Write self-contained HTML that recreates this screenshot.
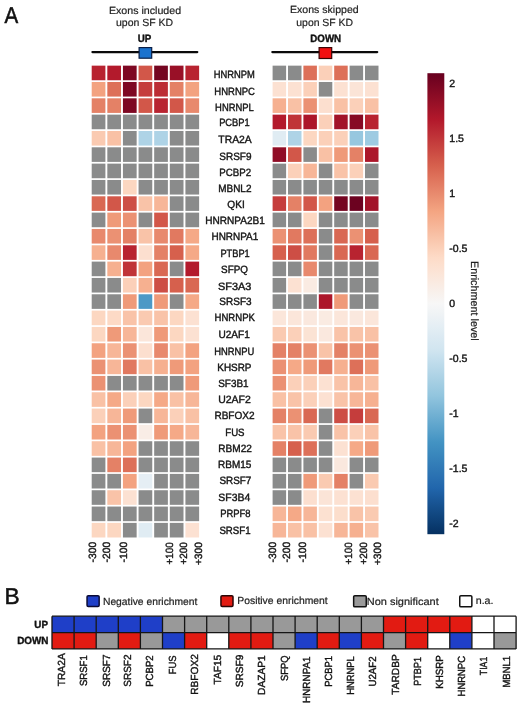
<!DOCTYPE html>
<html><head><meta charset="utf-8"><title>Figure</title>
<style>
html,body{margin:0;padding:0;background:#fff;width:520px;height:706px;overflow:hidden;}
svg text{font-family:"Liberation Sans",sans-serif;}
</style></head><body>
<svg width="520" height="706" viewBox="0 0 520 706" style="display:block;text-rendering:geometricPrecision;will-change:transform;filter:blur(0.4px)">
<rect x="0" y="0" width="520" height="706" fill="#ffffff"/>
<line x1="92.45" y1="52.1" x2="197.25" y2="52.1" stroke="#0a0a0a" stroke-width="2.3" stroke-linecap="round"/>
<line x1="272.35" y1="52.1" x2="377.2" y2="52.1" stroke="#0a0a0a" stroke-width="2.3" stroke-linecap="round"/>
<rect x="139.1" y="47.6" width="12.6" height="10.6" fill="#1b73cf" stroke="#0b1e45" stroke-width="1.2"/>
<rect x="319.1" y="47.6" width="12.6" height="10.9" fill="#f20f10" stroke="#3a0505" stroke-width="1.2"/>
<rect x="91.70" y="65.65" width="13.7" height="14.6" fill="#b82330"/>
<rect x="107.32" y="65.65" width="13.7" height="14.6" fill="#b31a2c"/>
<rect x="122.94" y="65.65" width="13.7" height="14.6" fill="#7e0823"/>
<rect x="138.56" y="65.65" width="13.7" height="14.6" fill="#d25749"/>
<rect x="154.18" y="65.65" width="13.7" height="14.6" fill="#750521"/>
<rect x="169.80" y="65.65" width="13.7" height="14.6" fill="#991027"/>
<rect x="185.42" y="65.65" width="13.7" height="14.6" fill="#b82330"/>
<rect x="91.70" y="81.98" width="13.7" height="14.6" fill="#f3a280"/>
<rect x="107.32" y="81.98" width="13.7" height="14.6" fill="#dd7059"/>
<rect x="122.94" y="81.98" width="13.7" height="14.6" fill="#7e0823"/>
<rect x="138.56" y="81.98" width="13.7" height="14.6" fill="#c53d3c"/>
<rect x="154.18" y="81.98" width="13.7" height="14.6" fill="#bc2c34"/>
<rect x="169.80" y="81.98" width="13.7" height="14.6" fill="#e48166"/>
<rect x="185.42" y="81.98" width="13.7" height="14.6" fill="#f3a280"/>
<rect x="91.70" y="98.31" width="13.7" height="14.6" fill="#e48166"/>
<rect x="107.32" y="98.31" width="13.7" height="14.6" fill="#e48166"/>
<rect x="122.94" y="98.31" width="13.7" height="14.6" fill="#7e0823"/>
<rect x="138.56" y="98.31" width="13.7" height="14.6" fill="#d25749"/>
<rect x="154.18" y="98.31" width="13.7" height="14.6" fill="#b82330"/>
<rect x="169.80" y="98.31" width="13.7" height="14.6" fill="#d25749"/>
<rect x="185.42" y="98.31" width="13.7" height="14.6" fill="#e8896d"/>
<rect x="91.70" y="114.64" width="13.7" height="14.6" fill="#8a8b8b"/>
<rect x="107.32" y="114.64" width="13.7" height="14.6" fill="#8a8b8b"/>
<rect x="122.94" y="114.64" width="13.7" height="14.6" fill="#8a8b8b"/>
<rect x="138.56" y="114.64" width="13.7" height="14.6" fill="#8a8b8b"/>
<rect x="154.18" y="114.64" width="13.7" height="14.6" fill="#8a8b8b"/>
<rect x="169.80" y="114.64" width="13.7" height="14.6" fill="#8a8b8b"/>
<rect x="185.42" y="114.64" width="13.7" height="14.6" fill="#8a8b8b"/>
<rect x="91.70" y="130.97" width="13.7" height="14.6" fill="#facab1"/>
<rect x="107.32" y="130.97" width="13.7" height="14.6" fill="#f9c1a5"/>
<rect x="122.94" y="130.97" width="13.7" height="14.6" fill="#8a8b8b"/>
<rect x="138.56" y="130.97" width="13.7" height="14.6" fill="#aed3e6"/>
<rect x="154.18" y="130.97" width="13.7" height="14.6" fill="#aed3e6"/>
<rect x="169.80" y="130.97" width="13.7" height="14.6" fill="#8a8b8b"/>
<rect x="185.42" y="130.97" width="13.7" height="14.6" fill="#8a8b8b"/>
<rect x="91.70" y="147.30" width="13.7" height="14.6" fill="#8a8b8b"/>
<rect x="107.32" y="147.30" width="13.7" height="14.6" fill="#8a8b8b"/>
<rect x="122.94" y="147.30" width="13.7" height="14.6" fill="#8a8b8b"/>
<rect x="138.56" y="147.30" width="13.7" height="14.6" fill="#8a8b8b"/>
<rect x="154.18" y="147.30" width="13.7" height="14.6" fill="#8a8b8b"/>
<rect x="169.80" y="147.30" width="13.7" height="14.6" fill="#8a8b8b"/>
<rect x="185.42" y="147.30" width="13.7" height="14.6" fill="#8a8b8b"/>
<rect x="91.70" y="163.63" width="13.7" height="14.6" fill="#8a8b8b"/>
<rect x="107.32" y="163.63" width="13.7" height="14.6" fill="#8a8b8b"/>
<rect x="122.94" y="163.63" width="13.7" height="14.6" fill="#8a8b8b"/>
<rect x="138.56" y="163.63" width="13.7" height="14.6" fill="#8a8b8b"/>
<rect x="154.18" y="163.63" width="13.7" height="14.6" fill="#8a8b8b"/>
<rect x="169.80" y="163.63" width="13.7" height="14.6" fill="#8a8b8b"/>
<rect x="185.42" y="163.63" width="13.7" height="14.6" fill="#8a8b8b"/>
<rect x="91.70" y="179.96" width="13.7" height="14.6" fill="#8a8b8b"/>
<rect x="107.32" y="179.96" width="13.7" height="14.6" fill="#8a8b8b"/>
<rect x="122.94" y="179.96" width="13.7" height="14.6" fill="#fcd7c1"/>
<rect x="138.56" y="179.96" width="13.7" height="14.6" fill="#8a8b8b"/>
<rect x="154.18" y="179.96" width="13.7" height="14.6" fill="#8a8b8b"/>
<rect x="169.80" y="179.96" width="13.7" height="14.6" fill="#8a8b8b"/>
<rect x="185.42" y="179.96" width="13.7" height="14.6" fill="#8a8b8b"/>
<rect x="91.70" y="196.29" width="13.7" height="14.6" fill="#d96853"/>
<rect x="107.32" y="196.29" width="13.7" height="14.6" fill="#d25749"/>
<rect x="122.94" y="196.29" width="13.7" height="14.6" fill="#cd4e45"/>
<rect x="138.56" y="196.29" width="13.7" height="14.6" fill="#f9c3a8"/>
<rect x="154.18" y="196.29" width="13.7" height="14.6" fill="#f7b698"/>
<rect x="169.80" y="196.29" width="13.7" height="14.6" fill="#8a8b8b"/>
<rect x="185.42" y="196.29" width="13.7" height="14.6" fill="#8a8b8b"/>
<rect x="91.70" y="212.62" width="13.7" height="14.6" fill="#8a8b8b"/>
<rect x="107.32" y="212.62" width="13.7" height="14.6" fill="#ef9a79"/>
<rect x="122.94" y="212.62" width="13.7" height="14.6" fill="#eb9173"/>
<rect x="138.56" y="212.62" width="13.7" height="14.6" fill="#8a8b8b"/>
<rect x="154.18" y="212.62" width="13.7" height="14.6" fill="#d25749"/>
<rect x="169.80" y="212.62" width="13.7" height="14.6" fill="#8a8b8b"/>
<rect x="185.42" y="212.62" width="13.7" height="14.6" fill="#8a8b8b"/>
<rect x="91.70" y="228.95" width="13.7" height="14.6" fill="#e8896d"/>
<rect x="107.32" y="228.95" width="13.7" height="14.6" fill="#eb9173"/>
<rect x="122.94" y="228.95" width="13.7" height="14.6" fill="#e48166"/>
<rect x="138.56" y="228.95" width="13.7" height="14.6" fill="#f9c3a8"/>
<rect x="154.18" y="228.95" width="13.7" height="14.6" fill="#e8896d"/>
<rect x="169.80" y="228.95" width="13.7" height="14.6" fill="#e17960"/>
<rect x="185.42" y="228.95" width="13.7" height="14.6" fill="#f5a987"/>
<rect x="91.70" y="245.28" width="13.7" height="14.6" fill="#f6b090"/>
<rect x="107.32" y="245.28" width="13.7" height="14.6" fill="#e8896d"/>
<rect x="122.94" y="245.28" width="13.7" height="14.6" fill="#b82330"/>
<rect x="138.56" y="245.28" width="13.7" height="14.6" fill="#fcdfcf"/>
<rect x="154.18" y="245.28" width="13.7" height="14.6" fill="#e48166"/>
<rect x="169.80" y="245.28" width="13.7" height="14.6" fill="#d6604d"/>
<rect x="185.42" y="245.28" width="13.7" height="14.6" fill="#f5a987"/>
<rect x="91.70" y="261.61" width="13.7" height="14.6" fill="#8a8b8b"/>
<rect x="107.32" y="261.61" width="13.7" height="14.6" fill="#f6b090"/>
<rect x="122.94" y="261.61" width="13.7" height="14.6" fill="#c03438"/>
<rect x="138.56" y="261.61" width="13.7" height="14.6" fill="#f3a280"/>
<rect x="154.18" y="261.61" width="13.7" height="14.6" fill="#d96853"/>
<rect x="169.80" y="261.61" width="13.7" height="14.6" fill="#8a8b8b"/>
<rect x="185.42" y="261.61" width="13.7" height="14.6" fill="#b31a2c"/>
<rect x="91.70" y="277.94" width="13.7" height="14.6" fill="#8a8b8b"/>
<rect x="107.32" y="277.94" width="13.7" height="14.6" fill="#8a8b8b"/>
<rect x="122.94" y="277.94" width="13.7" height="14.6" fill="#fbd0b9"/>
<rect x="138.56" y="277.94" width="13.7" height="14.6" fill="#f6b090"/>
<rect x="154.18" y="277.94" width="13.7" height="14.6" fill="#cd4e45"/>
<rect x="169.80" y="277.94" width="13.7" height="14.6" fill="#d6604d"/>
<rect x="185.42" y="277.94" width="13.7" height="14.6" fill="#d96853"/>
<rect x="91.70" y="294.27" width="13.7" height="14.6" fill="#8a8b8b"/>
<rect x="107.32" y="294.27" width="13.7" height="14.6" fill="#8a8b8b"/>
<rect x="122.94" y="294.27" width="13.7" height="14.6" fill="#ef9a79"/>
<rect x="138.56" y="294.27" width="13.7" height="14.6" fill="#4c99c6"/>
<rect x="154.18" y="294.27" width="13.7" height="14.6" fill="#ef9a79"/>
<rect x="169.80" y="294.27" width="13.7" height="14.6" fill="#8a8b8b"/>
<rect x="185.42" y="294.27" width="13.7" height="14.6" fill="#f5a987"/>
<rect x="91.70" y="310.60" width="13.7" height="14.6" fill="#fcd7c1"/>
<rect x="107.32" y="310.60" width="13.7" height="14.6" fill="#fddac6"/>
<rect x="122.94" y="310.60" width="13.7" height="14.6" fill="#f9c3a8"/>
<rect x="138.56" y="310.60" width="13.7" height="14.6" fill="#facab1"/>
<rect x="154.18" y="310.60" width="13.7" height="14.6" fill="#f9c3a8"/>
<rect x="169.80" y="310.60" width="13.7" height="14.6" fill="#fcd7c1"/>
<rect x="185.42" y="310.60" width="13.7" height="14.6" fill="#fce1d2"/>
<rect x="91.70" y="326.93" width="13.7" height="14.6" fill="#fcd7c1"/>
<rect x="107.32" y="326.93" width="13.7" height="14.6" fill="#ef9a79"/>
<rect x="122.94" y="326.93" width="13.7" height="14.6" fill="#f7b698"/>
<rect x="138.56" y="326.93" width="13.7" height="14.6" fill="#fbe6da"/>
<rect x="154.18" y="326.93" width="13.7" height="14.6" fill="#ef9a79"/>
<rect x="169.80" y="326.93" width="13.7" height="14.6" fill="#fcd7c1"/>
<rect x="185.42" y="326.93" width="13.7" height="14.6" fill="#fce1d2"/>
<rect x="91.70" y="343.26" width="13.7" height="14.6" fill="#f3a280"/>
<rect x="107.32" y="343.26" width="13.7" height="14.6" fill="#f7b698"/>
<rect x="122.94" y="343.26" width="13.7" height="14.6" fill="#eb9173"/>
<rect x="138.56" y="343.26" width="13.7" height="14.6" fill="#fcdfcf"/>
<rect x="154.18" y="343.26" width="13.7" height="14.6" fill="#e8896d"/>
<rect x="169.80" y="343.26" width="13.7" height="14.6" fill="#f9c1a5"/>
<rect x="185.42" y="343.26" width="13.7" height="14.6" fill="#f3a280"/>
<rect x="91.70" y="359.59" width="13.7" height="14.6" fill="#eb9173"/>
<rect x="107.32" y="359.59" width="13.7" height="14.6" fill="#f7b698"/>
<rect x="122.94" y="359.59" width="13.7" height="14.6" fill="#e17960"/>
<rect x="138.56" y="359.59" width="13.7" height="14.6" fill="#f9c1a5"/>
<rect x="154.18" y="359.59" width="13.7" height="14.6" fill="#f6b090"/>
<rect x="169.80" y="359.59" width="13.7" height="14.6" fill="#ef9a79"/>
<rect x="185.42" y="359.59" width="13.7" height="14.6" fill="#f3a280"/>
<rect x="91.70" y="375.92" width="13.7" height="14.6" fill="#eb9173"/>
<rect x="107.32" y="375.92" width="13.7" height="14.6" fill="#8a8b8b"/>
<rect x="122.94" y="375.92" width="13.7" height="14.6" fill="#8a8b8b"/>
<rect x="138.56" y="375.92" width="13.7" height="14.6" fill="#8a8b8b"/>
<rect x="154.18" y="375.92" width="13.7" height="14.6" fill="#8a8b8b"/>
<rect x="169.80" y="375.92" width="13.7" height="14.6" fill="#8a8b8b"/>
<rect x="185.42" y="375.92" width="13.7" height="14.6" fill="#ef9a79"/>
<rect x="91.70" y="392.25" width="13.7" height="14.6" fill="#f9c1a5"/>
<rect x="107.32" y="392.25" width="13.7" height="14.6" fill="#f5a987"/>
<rect x="122.94" y="392.25" width="13.7" height="14.6" fill="#fbd0b9"/>
<rect x="138.56" y="392.25" width="13.7" height="14.6" fill="#fcd7c1"/>
<rect x="154.18" y="392.25" width="13.7" height="14.6" fill="#f5a987"/>
<rect x="169.80" y="392.25" width="13.7" height="14.6" fill="#f9c1a5"/>
<rect x="185.42" y="392.25" width="13.7" height="14.6" fill="#f7b698"/>
<rect x="91.70" y="408.58" width="13.7" height="14.6" fill="#fbd0b9"/>
<rect x="107.32" y="408.58" width="13.7" height="14.6" fill="#f7b698"/>
<rect x="122.94" y="408.58" width="13.7" height="14.6" fill="#ef9a79"/>
<rect x="138.56" y="408.58" width="13.7" height="14.6" fill="#8a8b8b"/>
<rect x="154.18" y="408.58" width="13.7" height="14.6" fill="#f7b698"/>
<rect x="169.80" y="408.58" width="13.7" height="14.6" fill="#fbd0b9"/>
<rect x="185.42" y="408.58" width="13.7" height="14.6" fill="#f9c1a5"/>
<rect x="91.70" y="424.91" width="13.7" height="14.6" fill="#f3a280"/>
<rect x="107.32" y="424.91" width="13.7" height="14.6" fill="#eb9173"/>
<rect x="122.94" y="424.91" width="13.7" height="14.6" fill="#eb9173"/>
<rect x="138.56" y="424.91" width="13.7" height="14.6" fill="#f9ede6"/>
<rect x="154.18" y="424.91" width="13.7" height="14.6" fill="#ef9a79"/>
<rect x="169.80" y="424.91" width="13.7" height="14.6" fill="#f5a987"/>
<rect x="185.42" y="424.91" width="13.7" height="14.6" fill="#f7b698"/>
<rect x="91.70" y="441.24" width="13.7" height="14.6" fill="#f9c1a5"/>
<rect x="107.32" y="441.24" width="13.7" height="14.6" fill="#f7b698"/>
<rect x="122.94" y="441.24" width="13.7" height="14.6" fill="#f3a280"/>
<rect x="138.56" y="441.24" width="13.7" height="14.6" fill="#8a8b8b"/>
<rect x="154.18" y="441.24" width="13.7" height="14.6" fill="#8a8b8b"/>
<rect x="169.80" y="441.24" width="13.7" height="14.6" fill="#8a8b8b"/>
<rect x="185.42" y="441.24" width="13.7" height="14.6" fill="#8a8b8b"/>
<rect x="91.70" y="457.57" width="13.7" height="14.6" fill="#8a8b8b"/>
<rect x="107.32" y="457.57" width="13.7" height="14.6" fill="#e48166"/>
<rect x="122.94" y="457.57" width="13.7" height="14.6" fill="#dd7059"/>
<rect x="138.56" y="457.57" width="13.7" height="14.6" fill="#8a8b8b"/>
<rect x="154.18" y="457.57" width="13.7" height="14.6" fill="#8a8b8b"/>
<rect x="169.80" y="457.57" width="13.7" height="14.6" fill="#8a8b8b"/>
<rect x="185.42" y="457.57" width="13.7" height="14.6" fill="#8a8b8b"/>
<rect x="91.70" y="473.90" width="13.7" height="14.6" fill="#8a8b8b"/>
<rect x="107.32" y="473.90" width="13.7" height="14.6" fill="#8a8b8b"/>
<rect x="122.94" y="473.90" width="13.7" height="14.6" fill="#f3a280"/>
<rect x="138.56" y="473.90" width="13.7" height="14.6" fill="#e5eef4"/>
<rect x="154.18" y="473.90" width="13.7" height="14.6" fill="#8a8b8b"/>
<rect x="169.80" y="473.90" width="13.7" height="14.6" fill="#8a8b8b"/>
<rect x="185.42" y="473.90" width="13.7" height="14.6" fill="#8a8b8b"/>
<rect x="91.70" y="490.23" width="13.7" height="14.6" fill="#8a8b8b"/>
<rect x="107.32" y="490.23" width="13.7" height="14.6" fill="#f9c3a8"/>
<rect x="122.94" y="490.23" width="13.7" height="14.6" fill="#fce1d2"/>
<rect x="138.56" y="490.23" width="13.7" height="14.6" fill="#8a8b8b"/>
<rect x="154.18" y="490.23" width="13.7" height="14.6" fill="#8a8b8b"/>
<rect x="169.80" y="490.23" width="13.7" height="14.6" fill="#8a8b8b"/>
<rect x="185.42" y="490.23" width="13.7" height="14.6" fill="#8a8b8b"/>
<rect x="91.70" y="506.56" width="13.7" height="14.6" fill="#8a8b8b"/>
<rect x="107.32" y="506.56" width="13.7" height="14.6" fill="#8a8b8b"/>
<rect x="122.94" y="506.56" width="13.7" height="14.6" fill="#8a8b8b"/>
<rect x="138.56" y="506.56" width="13.7" height="14.6" fill="#8a8b8b"/>
<rect x="154.18" y="506.56" width="13.7" height="14.6" fill="#8a8b8b"/>
<rect x="169.80" y="506.56" width="13.7" height="14.6" fill="#8a8b8b"/>
<rect x="185.42" y="506.56" width="13.7" height="14.6" fill="#8a8b8b"/>
<rect x="91.70" y="522.89" width="13.7" height="14.6" fill="#fcd7c1"/>
<rect x="107.32" y="522.89" width="13.7" height="14.6" fill="#fcd7c1"/>
<rect x="122.94" y="522.89" width="13.7" height="14.6" fill="#8a8b8b"/>
<rect x="138.56" y="522.89" width="13.7" height="14.6" fill="#e0ecf3"/>
<rect x="154.18" y="522.89" width="13.7" height="14.6" fill="#8a8b8b"/>
<rect x="169.80" y="522.89" width="13.7" height="14.6" fill="#8a8b8b"/>
<rect x="185.42" y="522.89" width="13.7" height="14.6" fill="#fce1d2"/>
<rect x="272.60" y="65.65" width="13.5" height="14.6" fill="#8a8b8b"/>
<rect x="288.00" y="65.65" width="13.5" height="14.6" fill="#8a8b8b"/>
<rect x="303.40" y="65.65" width="13.5" height="14.6" fill="#dd7059"/>
<rect x="318.80" y="65.65" width="13.5" height="14.6" fill="#fbd0b9"/>
<rect x="334.20" y="65.65" width="13.5" height="14.6" fill="#dd7059"/>
<rect x="349.60" y="65.65" width="13.5" height="14.6" fill="#8a8b8b"/>
<rect x="365.00" y="65.65" width="13.5" height="14.6" fill="#8a8b8b"/>
<rect x="272.60" y="81.98" width="13.5" height="14.6" fill="#fce1d2"/>
<rect x="288.00" y="81.98" width="13.5" height="14.6" fill="#fce1d2"/>
<rect x="303.40" y="81.98" width="13.5" height="14.6" fill="#fbd0b9"/>
<rect x="318.80" y="81.98" width="13.5" height="14.6" fill="#8a8b8b"/>
<rect x="334.20" y="81.98" width="13.5" height="14.6" fill="#fce1d2"/>
<rect x="349.60" y="81.98" width="13.5" height="14.6" fill="#fbe4d7"/>
<rect x="365.00" y="81.98" width="13.5" height="14.6" fill="#fce1d2"/>
<rect x="272.60" y="98.31" width="13.5" height="14.6" fill="#f6b090"/>
<rect x="288.00" y="98.31" width="13.5" height="14.6" fill="#f9c1a5"/>
<rect x="303.40" y="98.31" width="13.5" height="14.6" fill="#eb9173"/>
<rect x="318.80" y="98.31" width="13.5" height="14.6" fill="#fcdfcf"/>
<rect x="334.20" y="98.31" width="13.5" height="14.6" fill="#f9c1a5"/>
<rect x="349.60" y="98.31" width="13.5" height="14.6" fill="#fbd0b9"/>
<rect x="365.00" y="98.31" width="13.5" height="14.6" fill="#f9c1a5"/>
<rect x="272.60" y="114.64" width="13.5" height="14.6" fill="#b31a2c"/>
<rect x="288.00" y="114.64" width="13.5" height="14.6" fill="#c03438"/>
<rect x="303.40" y="114.64" width="13.5" height="14.6" fill="#ac162a"/>
<rect x="318.80" y="114.64" width="13.5" height="14.6" fill="#fbd0b9"/>
<rect x="334.20" y="114.64" width="13.5" height="14.6" fill="#a21329"/>
<rect x="349.60" y="114.64" width="13.5" height="14.6" fill="#870a24"/>
<rect x="365.00" y="114.64" width="13.5" height="14.6" fill="#b82330"/>
<rect x="272.60" y="130.97" width="13.5" height="14.6" fill="#e0ecf3"/>
<rect x="288.00" y="130.97" width="13.5" height="14.6" fill="#aed3e6"/>
<rect x="303.40" y="130.97" width="13.5" height="14.6" fill="#fcd7c1"/>
<rect x="318.80" y="130.97" width="13.5" height="14.6" fill="#fbd0b9"/>
<rect x="334.20" y="130.97" width="13.5" height="14.6" fill="#fbd0b9"/>
<rect x="349.60" y="130.97" width="13.5" height="14.6" fill="#97c7df"/>
<rect x="365.00" y="130.97" width="13.5" height="14.6" fill="#9ecbe2"/>
<rect x="272.60" y="147.30" width="13.5" height="14.6" fill="#900d26"/>
<rect x="288.00" y="147.30" width="13.5" height="14.6" fill="#d25749"/>
<rect x="303.40" y="147.30" width="13.5" height="14.6" fill="#8a8b8b"/>
<rect x="318.80" y="147.30" width="13.5" height="14.6" fill="#f9c1a5"/>
<rect x="334.20" y="147.30" width="13.5" height="14.6" fill="#ef9a79"/>
<rect x="349.60" y="147.30" width="13.5" height="14.6" fill="#e48166"/>
<rect x="365.00" y="147.30" width="13.5" height="14.6" fill="#ac162a"/>
<rect x="272.60" y="163.63" width="13.5" height="14.6" fill="#8a8b8b"/>
<rect x="288.00" y="163.63" width="13.5" height="14.6" fill="#fbd0b9"/>
<rect x="303.40" y="163.63" width="13.5" height="14.6" fill="#f7b698"/>
<rect x="318.80" y="163.63" width="13.5" height="14.6" fill="#8a8b8b"/>
<rect x="334.20" y="163.63" width="13.5" height="14.6" fill="#f9c3a8"/>
<rect x="349.60" y="163.63" width="13.5" height="14.6" fill="#fbd0b9"/>
<rect x="365.00" y="163.63" width="13.5" height="14.6" fill="#8a8b8b"/>
<rect x="272.60" y="179.96" width="13.5" height="14.6" fill="#8a8b8b"/>
<rect x="288.00" y="179.96" width="13.5" height="14.6" fill="#8a8b8b"/>
<rect x="303.40" y="179.96" width="13.5" height="14.6" fill="#8a8b8b"/>
<rect x="318.80" y="179.96" width="13.5" height="14.6" fill="#8a8b8b"/>
<rect x="334.20" y="179.96" width="13.5" height="14.6" fill="#8a8b8b"/>
<rect x="349.60" y="179.96" width="13.5" height="14.6" fill="#8a8b8b"/>
<rect x="365.00" y="179.96" width="13.5" height="14.6" fill="#8a8b8b"/>
<rect x="272.60" y="196.29" width="13.5" height="14.6" fill="#c53d3c"/>
<rect x="288.00" y="196.29" width="13.5" height="14.6" fill="#e48166"/>
<rect x="303.40" y="196.29" width="13.5" height="14.6" fill="#d25749"/>
<rect x="318.80" y="196.29" width="13.5" height="14.6" fill="#f3a280"/>
<rect x="334.20" y="196.29" width="13.5" height="14.6" fill="#750521"/>
<rect x="349.60" y="196.29" width="13.5" height="14.6" fill="#6c0220"/>
<rect x="365.00" y="196.29" width="13.5" height="14.6" fill="#a21329"/>
<rect x="272.60" y="212.62" width="13.5" height="14.6" fill="#8a8b8b"/>
<rect x="288.00" y="212.62" width="13.5" height="14.6" fill="#8a8b8b"/>
<rect x="303.40" y="212.62" width="13.5" height="14.6" fill="#fcd7c1"/>
<rect x="318.80" y="212.62" width="13.5" height="14.6" fill="#8a8b8b"/>
<rect x="334.20" y="212.62" width="13.5" height="14.6" fill="#8a8b8b"/>
<rect x="349.60" y="212.62" width="13.5" height="14.6" fill="#8a8b8b"/>
<rect x="365.00" y="212.62" width="13.5" height="14.6" fill="#8a8b8b"/>
<rect x="272.60" y="228.95" width="13.5" height="14.6" fill="#eb9173"/>
<rect x="288.00" y="228.95" width="13.5" height="14.6" fill="#e17960"/>
<rect x="303.40" y="228.95" width="13.5" height="14.6" fill="#dd7059"/>
<rect x="318.80" y="228.95" width="13.5" height="14.6" fill="#8a8b8b"/>
<rect x="334.20" y="228.95" width="13.5" height="14.6" fill="#d96853"/>
<rect x="349.60" y="228.95" width="13.5" height="14.6" fill="#eb9173"/>
<rect x="365.00" y="228.95" width="13.5" height="14.6" fill="#d6604d"/>
<rect x="272.60" y="245.28" width="13.5" height="14.6" fill="#d6604d"/>
<rect x="288.00" y="245.28" width="13.5" height="14.6" fill="#cd4e45"/>
<rect x="303.40" y="245.28" width="13.5" height="14.6" fill="#e17960"/>
<rect x="318.80" y="245.28" width="13.5" height="14.6" fill="#8a8b8b"/>
<rect x="334.20" y="245.28" width="13.5" height="14.6" fill="#d96853"/>
<rect x="349.60" y="245.28" width="13.5" height="14.6" fill="#b82330"/>
<rect x="365.00" y="245.28" width="13.5" height="14.6" fill="#d96853"/>
<rect x="272.60" y="261.61" width="13.5" height="14.6" fill="#8a8b8b"/>
<rect x="288.00" y="261.61" width="13.5" height="14.6" fill="#8a8b8b"/>
<rect x="303.40" y="261.61" width="13.5" height="14.6" fill="#e8896d"/>
<rect x="318.80" y="261.61" width="13.5" height="14.6" fill="#8a8b8b"/>
<rect x="334.20" y="261.61" width="13.5" height="14.6" fill="#8a8b8b"/>
<rect x="349.60" y="261.61" width="13.5" height="14.6" fill="#8a8b8b"/>
<rect x="365.00" y="261.61" width="13.5" height="14.6" fill="#8a8b8b"/>
<rect x="272.60" y="277.94" width="13.5" height="14.6" fill="#8a8b8b"/>
<rect x="288.00" y="277.94" width="13.5" height="14.6" fill="#fce1d2"/>
<rect x="303.40" y="277.94" width="13.5" height="14.6" fill="#faebe2"/>
<rect x="318.80" y="277.94" width="13.5" height="14.6" fill="#8a8b8b"/>
<rect x="334.20" y="277.94" width="13.5" height="14.6" fill="#8a8b8b"/>
<rect x="349.60" y="277.94" width="13.5" height="14.6" fill="#8a8b8b"/>
<rect x="365.00" y="277.94" width="13.5" height="14.6" fill="#8a8b8b"/>
<rect x="272.60" y="294.27" width="13.5" height="14.6" fill="#8a8b8b"/>
<rect x="288.00" y="294.27" width="13.5" height="14.6" fill="#8a8b8b"/>
<rect x="303.40" y="294.27" width="13.5" height="14.6" fill="#8a8b8b"/>
<rect x="318.80" y="294.27" width="13.5" height="14.6" fill="#ac162a"/>
<rect x="334.20" y="294.27" width="13.5" height="14.6" fill="#ef9a79"/>
<rect x="349.60" y="294.27" width="13.5" height="14.6" fill="#8a8b8b"/>
<rect x="365.00" y="294.27" width="13.5" height="14.6" fill="#8a8b8b"/>
<rect x="272.60" y="310.60" width="13.5" height="14.6" fill="#fbe6da"/>
<rect x="288.00" y="310.60" width="13.5" height="14.6" fill="#fbe6da"/>
<rect x="303.40" y="310.60" width="13.5" height="14.6" fill="#fae8de"/>
<rect x="318.80" y="310.60" width="13.5" height="14.6" fill="#faebe2"/>
<rect x="334.20" y="310.60" width="13.5" height="14.6" fill="#fbe6da"/>
<rect x="349.60" y="310.60" width="13.5" height="14.6" fill="#fae8de"/>
<rect x="365.00" y="310.60" width="13.5" height="14.6" fill="#fbe6da"/>
<rect x="272.60" y="326.93" width="13.5" height="14.6" fill="#facab1"/>
<rect x="288.00" y="326.93" width="13.5" height="14.6" fill="#fbd0b9"/>
<rect x="303.40" y="326.93" width="13.5" height="14.6" fill="#fbe3d4"/>
<rect x="318.80" y="326.93" width="13.5" height="14.6" fill="#fae8de"/>
<rect x="334.20" y="326.93" width="13.5" height="14.6" fill="#f9c3a8"/>
<rect x="349.60" y="326.93" width="13.5" height="14.6" fill="#f9c3a8"/>
<rect x="365.00" y="326.93" width="13.5" height="14.6" fill="#f9c1a5"/>
<rect x="272.60" y="343.26" width="13.5" height="14.6" fill="#e48166"/>
<rect x="288.00" y="343.26" width="13.5" height="14.6" fill="#e48166"/>
<rect x="303.40" y="343.26" width="13.5" height="14.6" fill="#eb9173"/>
<rect x="318.80" y="343.26" width="13.5" height="14.6" fill="#f9c3a8"/>
<rect x="334.20" y="343.26" width="13.5" height="14.6" fill="#e48166"/>
<rect x="349.60" y="343.26" width="13.5" height="14.6" fill="#eb9173"/>
<rect x="365.00" y="343.26" width="13.5" height="14.6" fill="#eb9173"/>
<rect x="272.60" y="359.59" width="13.5" height="14.6" fill="#eb9173"/>
<rect x="288.00" y="359.59" width="13.5" height="14.6" fill="#f5a987"/>
<rect x="303.40" y="359.59" width="13.5" height="14.6" fill="#ef9a79"/>
<rect x="318.80" y="359.59" width="13.5" height="14.6" fill="#e17960"/>
<rect x="334.20" y="359.59" width="13.5" height="14.6" fill="#f6b090"/>
<rect x="349.60" y="359.59" width="13.5" height="14.6" fill="#dd7059"/>
<rect x="365.00" y="359.59" width="13.5" height="14.6" fill="#ef9a79"/>
<rect x="272.60" y="375.92" width="13.5" height="14.6" fill="#eb9173"/>
<rect x="288.00" y="375.92" width="13.5" height="14.6" fill="#fbd0b9"/>
<rect x="303.40" y="375.92" width="13.5" height="14.6" fill="#fbd0b9"/>
<rect x="318.80" y="375.92" width="13.5" height="14.6" fill="#fce1d2"/>
<rect x="334.20" y="375.92" width="13.5" height="14.6" fill="#f9c3a8"/>
<rect x="349.60" y="375.92" width="13.5" height="14.6" fill="#f7b698"/>
<rect x="365.00" y="375.92" width="13.5" height="14.6" fill="#f9c1a5"/>
<rect x="272.60" y="392.25" width="13.5" height="14.6" fill="#f9c1a5"/>
<rect x="288.00" y="392.25" width="13.5" height="14.6" fill="#f9c3a8"/>
<rect x="303.40" y="392.25" width="13.5" height="14.6" fill="#fbd0b9"/>
<rect x="318.80" y="392.25" width="13.5" height="14.6" fill="#fce1d2"/>
<rect x="334.20" y="392.25" width="13.5" height="14.6" fill="#f9c3a8"/>
<rect x="349.60" y="392.25" width="13.5" height="14.6" fill="#f7b698"/>
<rect x="365.00" y="392.25" width="13.5" height="14.6" fill="#f6b090"/>
<rect x="272.60" y="408.58" width="13.5" height="14.6" fill="#e48166"/>
<rect x="288.00" y="408.58" width="13.5" height="14.6" fill="#eb9173"/>
<rect x="303.40" y="408.58" width="13.5" height="14.6" fill="#d96853"/>
<rect x="318.80" y="408.58" width="13.5" height="14.6" fill="#8a8b8b"/>
<rect x="334.20" y="408.58" width="13.5" height="14.6" fill="#cd4e45"/>
<rect x="349.60" y="408.58" width="13.5" height="14.6" fill="#c53d3c"/>
<rect x="365.00" y="408.58" width="13.5" height="14.6" fill="#d96853"/>
<rect x="272.60" y="424.91" width="13.5" height="14.6" fill="#f9c3a8"/>
<rect x="288.00" y="424.91" width="13.5" height="14.6" fill="#f9c3a8"/>
<rect x="303.40" y="424.91" width="13.5" height="14.6" fill="#facab1"/>
<rect x="318.80" y="424.91" width="13.5" height="14.6" fill="#8a8b8b"/>
<rect x="334.20" y="424.91" width="13.5" height="14.6" fill="#f9c3a8"/>
<rect x="349.60" y="424.91" width="13.5" height="14.6" fill="#fbd0b9"/>
<rect x="365.00" y="424.91" width="13.5" height="14.6" fill="#f9c3a8"/>
<rect x="272.60" y="441.24" width="13.5" height="14.6" fill="#e48166"/>
<rect x="288.00" y="441.24" width="13.5" height="14.6" fill="#d6604d"/>
<rect x="303.40" y="441.24" width="13.5" height="14.6" fill="#dd7059"/>
<rect x="318.80" y="441.24" width="13.5" height="14.6" fill="#8a8b8b"/>
<rect x="334.20" y="441.24" width="13.5" height="14.6" fill="#fce1d2"/>
<rect x="349.60" y="441.24" width="13.5" height="14.6" fill="#f5a987"/>
<rect x="365.00" y="441.24" width="13.5" height="14.6" fill="#ef9a79"/>
<rect x="272.60" y="457.57" width="13.5" height="14.6" fill="#8a8b8b"/>
<rect x="288.00" y="457.57" width="13.5" height="14.6" fill="#8a8b8b"/>
<rect x="303.40" y="457.57" width="13.5" height="14.6" fill="#8a8b8b"/>
<rect x="318.80" y="457.57" width="13.5" height="14.6" fill="#8a8b8b"/>
<rect x="334.20" y="457.57" width="13.5" height="14.6" fill="#fae8de"/>
<rect x="349.60" y="457.57" width="13.5" height="14.6" fill="#8a8b8b"/>
<rect x="365.00" y="457.57" width="13.5" height="14.6" fill="#8a8b8b"/>
<rect x="272.60" y="473.90" width="13.5" height="14.6" fill="#8a8b8b"/>
<rect x="288.00" y="473.90" width="13.5" height="14.6" fill="#8a8b8b"/>
<rect x="303.40" y="473.90" width="13.5" height="14.6" fill="#ef9a79"/>
<rect x="318.80" y="473.90" width="13.5" height="14.6" fill="#facab1"/>
<rect x="334.20" y="473.90" width="13.5" height="14.6" fill="#e48166"/>
<rect x="349.60" y="473.90" width="13.5" height="14.6" fill="#8a8b8b"/>
<rect x="365.00" y="473.90" width="13.5" height="14.6" fill="#facab1"/>
<rect x="272.60" y="490.23" width="13.5" height="14.6" fill="#8a8b8b"/>
<rect x="288.00" y="490.23" width="13.5" height="14.6" fill="#8a8b8b"/>
<rect x="303.40" y="490.23" width="13.5" height="14.6" fill="#fcdfcf"/>
<rect x="318.80" y="490.23" width="13.5" height="14.6" fill="#fbe4d7"/>
<rect x="334.20" y="490.23" width="13.5" height="14.6" fill="#fce1d2"/>
<rect x="349.60" y="490.23" width="13.5" height="14.6" fill="#fce1d2"/>
<rect x="365.00" y="490.23" width="13.5" height="14.6" fill="#fcdfcf"/>
<rect x="272.60" y="506.56" width="13.5" height="14.6" fill="#f7b698"/>
<rect x="288.00" y="506.56" width="13.5" height="14.6" fill="#f5a987"/>
<rect x="303.40" y="506.56" width="13.5" height="14.6" fill="#f7b698"/>
<rect x="318.80" y="506.56" width="13.5" height="14.6" fill="#fce1d1"/>
<rect x="334.20" y="506.56" width="13.5" height="14.6" fill="#fcdecc"/>
<rect x="349.60" y="506.56" width="13.5" height="14.6" fill="#f9c3a8"/>
<rect x="365.00" y="506.56" width="13.5" height="14.6" fill="#facab1"/>
<rect x="272.60" y="522.89" width="13.5" height="14.6" fill="#f7b698"/>
<rect x="288.00" y="522.89" width="13.5" height="14.6" fill="#f9c1a5"/>
<rect x="303.40" y="522.89" width="13.5" height="14.6" fill="#f9c1a5"/>
<rect x="318.80" y="522.89" width="13.5" height="14.6" fill="#fce1d2"/>
<rect x="334.20" y="522.89" width="13.5" height="14.6" fill="#f7b698"/>
<rect x="349.60" y="522.89" width="13.5" height="14.6" fill="#f6b090"/>
<rect x="365.00" y="522.89" width="13.5" height="14.6" fill="#f9c3a8"/>
<defs><linearGradient id="cb" x1="0" y1="0" x2="0" y2="1"><stop offset="0.0000" stop-color="#67001f"/><stop offset="0.0250" stop-color="#7a0622"/><stop offset="0.0500" stop-color="#8c0c25"/><stop offset="0.0750" stop-color="#9f1228"/><stop offset="0.1000" stop-color="#b2182b"/><stop offset="0.1250" stop-color="#bb2a34"/><stop offset="0.1500" stop-color="#c43c3c"/><stop offset="0.1750" stop-color="#cd4e44"/><stop offset="0.2000" stop-color="#d6604d"/><stop offset="0.2250" stop-color="#de715a"/><stop offset="0.2500" stop-color="#e58268"/><stop offset="0.2750" stop-color="#ec9475"/><stop offset="0.3000" stop-color="#f4a582"/><stop offset="0.3250" stop-color="#f6b293"/><stop offset="0.3500" stop-color="#f8c0a5"/><stop offset="0.3750" stop-color="#fbceb6"/><stop offset="0.4000" stop-color="#fddbc7"/><stop offset="0.4250" stop-color="#fce2d3"/><stop offset="0.4500" stop-color="#fae9df"/><stop offset="0.4750" stop-color="#f8f0eb"/><stop offset="0.5000" stop-color="#f7f7f7"/><stop offset="0.5250" stop-color="#eef2f5"/><stop offset="0.5500" stop-color="#e4eef4"/><stop offset="0.5750" stop-color="#dae9f2"/><stop offset="0.6000" stop-color="#d1e5f0"/><stop offset="0.6250" stop-color="#c1ddec"/><stop offset="0.6500" stop-color="#b2d5e7"/><stop offset="0.6750" stop-color="#a2cde2"/><stop offset="0.7000" stop-color="#92c5de"/><stop offset="0.7250" stop-color="#7eb8d7"/><stop offset="0.7500" stop-color="#6aacd0"/><stop offset="0.7750" stop-color="#57a0ca"/><stop offset="0.8000" stop-color="#4393c3"/><stop offset="0.8250" stop-color="#3a88bd"/><stop offset="0.8500" stop-color="#327cb7"/><stop offset="0.8750" stop-color="#2a71b2"/><stop offset="0.9000" stop-color="#2166ac"/><stop offset="0.9250" stop-color="#1a5899"/><stop offset="0.9500" stop-color="#134b86"/><stop offset="0.9750" stop-color="#0c3e74"/><stop offset="1.0000" stop-color="#053061"/></linearGradient></defs>
<rect x="427.4" y="73.2" width="16.9" height="461" fill="url(#cb)"/>
<text x="449.3" y="87.40" font-size="10.5" font-family="Liberation Sans, sans-serif" fill="#151515" stroke="#151515" stroke-width="0.4">2</text>
<text x="449.3" y="142.29" font-size="10.5" font-family="Liberation Sans, sans-serif" fill="#151515" stroke="#151515" stroke-width="0.4">1.5</text>
<text x="449.3" y="197.18" font-size="10.5" font-family="Liberation Sans, sans-serif" fill="#151515" stroke="#151515" stroke-width="0.4">1</text>
<text x="449.3" y="252.07" font-size="10.5" font-family="Liberation Sans, sans-serif" fill="#151515" stroke="#151515" stroke-width="0.4">-0.5</text>
<text x="449.3" y="306.96" font-size="10.5" font-family="Liberation Sans, sans-serif" fill="#151515" stroke="#151515" stroke-width="0.4">0</text>
<text x="449.3" y="361.85" font-size="10.5" font-family="Liberation Sans, sans-serif" fill="#151515" stroke="#151515" stroke-width="0.4">-0.5</text>
<text x="449.3" y="416.74" font-size="10.5" font-family="Liberation Sans, sans-serif" fill="#151515" stroke="#151515" stroke-width="0.4">-1</text>
<text x="449.3" y="471.63" font-size="10.5" font-family="Liberation Sans, sans-serif" fill="#151515" stroke="#151515" stroke-width="0.4">-1.5</text>
<text x="449.3" y="526.52" font-size="10.5" font-family="Liberation Sans, sans-serif" fill="#151515" stroke="#151515" stroke-width="0.4">-2</text>
<rect x="87.05" y="595.65" width="12.10" height="10.90" rx="1.2" fill="#1f3fc8" stroke="#0a0a35" stroke-width="1.5"/>
<rect x="220.95" y="595.65" width="12.05" height="10.90" rx="1.2" fill="#e21b12" stroke="#2a0505" stroke-width="1.5"/>
<rect x="353.65" y="595.65" width="12.60" height="11.20" rx="1.2" fill="#999999" stroke="#111111" stroke-width="1.5"/>
<rect x="459.75" y="595.65" width="12.10" height="11.20" rx="1.2" fill="#ffffff" stroke="#111111" stroke-width="1.5"/>
<rect x="52.00" y="616.2" width="22.10" height="16.35" fill="#1f3fc8"/>
<rect x="52.00" y="632.55" width="22.10" height="16.35" fill="#e21b12"/>
<rect x="74.10" y="616.2" width="22.10" height="16.35" fill="#1f3fc8"/>
<rect x="74.10" y="632.55" width="22.10" height="16.35" fill="#e21b12"/>
<rect x="96.20" y="616.2" width="22.10" height="16.35" fill="#1f3fc8"/>
<rect x="96.20" y="632.55" width="22.10" height="16.35" fill="#999999"/>
<rect x="118.30" y="616.2" width="22.10" height="16.35" fill="#1f3fc8"/>
<rect x="118.30" y="632.55" width="22.10" height="16.35" fill="#e21b12"/>
<rect x="140.40" y="616.2" width="22.10" height="16.35" fill="#1f3fc8"/>
<rect x="140.40" y="632.55" width="22.10" height="16.35" fill="#999999"/>
<rect x="162.50" y="616.2" width="22.10" height="16.35" fill="#999999"/>
<rect x="162.50" y="632.55" width="22.10" height="16.35" fill="#1f3fc8"/>
<rect x="184.60" y="616.2" width="22.10" height="16.35" fill="#999999"/>
<rect x="184.60" y="632.55" width="22.10" height="16.35" fill="#e21b12"/>
<rect x="206.70" y="616.2" width="22.10" height="16.35" fill="#999999"/>
<rect x="206.70" y="632.55" width="22.10" height="16.35" fill="#ffffff"/>
<rect x="228.80" y="616.2" width="22.10" height="16.35" fill="#999999"/>
<rect x="228.80" y="632.55" width="22.10" height="16.35" fill="#e21b12"/>
<rect x="250.90" y="616.2" width="22.10" height="16.35" fill="#999999"/>
<rect x="250.90" y="632.55" width="22.10" height="16.35" fill="#e21b12"/>
<rect x="273.00" y="616.2" width="22.10" height="16.35" fill="#999999"/>
<rect x="273.00" y="632.55" width="22.10" height="16.35" fill="#999999"/>
<rect x="295.10" y="616.2" width="22.10" height="16.35" fill="#999999"/>
<rect x="295.10" y="632.55" width="22.10" height="16.35" fill="#1f3fc8"/>
<rect x="317.20" y="616.2" width="22.10" height="16.35" fill="#999999"/>
<rect x="317.20" y="632.55" width="22.10" height="16.35" fill="#e21b12"/>
<rect x="339.30" y="616.2" width="22.10" height="16.35" fill="#999999"/>
<rect x="339.30" y="632.55" width="22.10" height="16.35" fill="#1f3fc8"/>
<rect x="361.40" y="616.2" width="22.10" height="16.35" fill="#999999"/>
<rect x="361.40" y="632.55" width="22.10" height="16.35" fill="#e21b12"/>
<rect x="383.50" y="616.2" width="22.10" height="16.35" fill="#e21b12"/>
<rect x="383.50" y="632.55" width="22.10" height="16.35" fill="#999999"/>
<rect x="405.60" y="616.2" width="22.10" height="16.35" fill="#e21b12"/>
<rect x="405.60" y="632.55" width="22.10" height="16.35" fill="#e21b12"/>
<rect x="427.70" y="616.2" width="22.10" height="16.35" fill="#e21b12"/>
<rect x="427.70" y="632.55" width="22.10" height="16.35" fill="#ffffff"/>
<rect x="449.80" y="616.2" width="22.10" height="16.35" fill="#e21b12"/>
<rect x="449.80" y="632.55" width="22.10" height="16.35" fill="#1f3fc8"/>
<rect x="471.90" y="616.2" width="22.10" height="16.35" fill="#ffffff"/>
<rect x="471.90" y="632.55" width="22.10" height="16.35" fill="#ffffff"/>
<rect x="494.00" y="616.2" width="22.10" height="16.35" fill="#ffffff"/>
<rect x="494.00" y="632.55" width="22.10" height="16.35" fill="#999999"/>
<path d="M52.00 616.2V648.90 M74.10 616.2V648.90 M96.20 616.2V648.90 M118.30 616.2V648.90 M140.40 616.2V648.90 M162.50 616.2V648.90 M184.60 616.2V648.90 M206.70 616.2V648.90 M228.80 616.2V648.90 M250.90 616.2V648.90 M273.00 616.2V648.90 M295.10 616.2V648.90 M317.20 616.2V648.90 M339.30 616.2V648.90 M361.40 616.2V648.90 M383.50 616.2V648.90 M405.60 616.2V648.90 M427.70 616.2V648.90 M449.80 616.2V648.90 M471.90 616.2V648.90 M494.00 616.2V648.90 M516.10 616.2V648.90 M52.0 616.20H516.10 M52.0 632.55H516.10 M52.0 648.90H516.10" stroke="#151515" stroke-width="1.3" fill="none"/>
<text x="0" y="0" transform="translate(11.28 22.56) scale(0.8927 1)" text-anchor="middle" font-size="23" font-family="Liberation Sans, sans-serif" fill="#111" stroke="#111" stroke-width="0.55">A</text>
<text x="0" y="0" transform="translate(11.99 604.42) scale(0.9867 1)" text-anchor="middle" font-size="23" font-family="Liberation Sans, sans-serif" fill="#111" stroke="#111" stroke-width="0.55">B</text>
<text x="0" y="0" transform="translate(145.03 13.95) scale(1.0245 1)" text-anchor="middle" font-size="10.4" font-family="Liberation Sans, sans-serif" fill="#222" stroke="#222" stroke-width="0.2">Exons included</text>
<text x="0" y="0" transform="translate(144.51 25.81) scale(1.0075 1)" text-anchor="middle" font-size="10.4" font-family="Liberation Sans, sans-serif" fill="#222" stroke="#222" stroke-width="0.2">upon SF KD</text>
<text x="0" y="0" transform="translate(144.42 41.58) scale(0.9207 1)" text-anchor="middle" font-size="10.6" font-weight="bold" font-family="Liberation Sans, sans-serif" fill="#111" stroke="#111" stroke-width="0.4">UP</text>
<text x="0" y="0" transform="translate(324.29 13.11) scale(1.0168 1)" text-anchor="middle" font-size="10.4" font-family="Liberation Sans, sans-serif" fill="#222" stroke="#222" stroke-width="0.2">Exons skipped</text>
<text x="0" y="0" transform="translate(324.66 25.79) scale(1.0015 1)" text-anchor="middle" font-size="10.4" font-family="Liberation Sans, sans-serif" fill="#222" stroke="#222" stroke-width="0.2">upon SF KD</text>
<text x="0" y="0" transform="translate(325.68 42.04) scale(0.9195 1)" text-anchor="middle" font-size="10.6" font-weight="bold" font-family="Liberation Sans, sans-serif" fill="#111" stroke="#111" stroke-width="0.4">DOWN</text>
<text x="0" y="0" transform="translate(150.18 604.75) scale(1.0002 1)" text-anchor="middle" font-size="10.3" font-family="Liberation Sans, sans-serif" fill="#222" stroke="#222" stroke-width="0.2">Negative enrichment</text>
<text x="0" y="0" transform="translate(282.48 604.08) scale(1.0061 1)" text-anchor="middle" font-size="10.3" font-family="Liberation Sans, sans-serif" fill="#222" stroke="#222" stroke-width="0.2">Positive enrichment</text>
<text x="0" y="0" transform="translate(402.73 604.72) scale(1.0662 1)" text-anchor="middle" font-size="10.3" font-family="Liberation Sans, sans-serif" fill="#222" stroke="#222" stroke-width="0.2">Non significant</text>
<text x="0" y="0" transform="translate(484.61 604.43) scale(1.0359 1)" text-anchor="middle" font-size="10.3" font-family="Liberation Sans, sans-serif" fill="#222" stroke="#222" stroke-width="0.2">n.a.</text>
<text x="0" y="0" transform="translate(41.16 628.39) scale(0.9401 1)" text-anchor="middle" font-size="10.4" font-weight="bold" font-family="Liberation Sans, sans-serif" fill="#111" stroke="#111" stroke-width="0.4">UP</text>
<text x="0" y="0" transform="translate(32.85 644.18) scale(0.9526 1)" text-anchor="middle" font-size="10.4" font-weight="bold" font-family="Liberation Sans, sans-serif" fill="#111" stroke="#111" stroke-width="0.4">DOWN</text>
<text x="0" y="0" transform="translate(96.44 541.85) rotate(-90) scale(0.9782 1)" text-anchor="end" font-size="10.5" font-family="Liberation Sans, sans-serif" fill="#151515" stroke="#151515" stroke-width="0.4">-300</text>
<text x="0" y="0" transform="translate(110.36 541.84) rotate(-90) scale(0.9800 1)" text-anchor="end" font-size="10.5" font-family="Liberation Sans, sans-serif" fill="#151515" stroke="#151515" stroke-width="0.4">-200</text>
<text x="0" y="0" transform="translate(126.50 541.85) rotate(-90) scale(0.9785 1)" text-anchor="end" font-size="10.5" font-family="Liberation Sans, sans-serif" fill="#151515" stroke="#151515" stroke-width="0.4">-100</text>
<text x="0" y="0" transform="translate(172.71 542.22) rotate(-90) scale(0.9432 1)" text-anchor="end" font-size="10.5" font-family="Liberation Sans, sans-serif" fill="#151515" stroke="#151515" stroke-width="0.4">+100</text>
<text x="0" y="0" transform="translate(187.31 542.15) rotate(-90) scale(0.9471 1)" text-anchor="end" font-size="10.5" font-family="Liberation Sans, sans-serif" fill="#151515" stroke="#151515" stroke-width="0.4">+200</text>
<text x="0" y="0" transform="translate(201.65 542.23) rotate(-90) scale(0.9643 1)" text-anchor="end" font-size="10.5" font-family="Liberation Sans, sans-serif" fill="#151515" stroke="#151515" stroke-width="0.4">+300</text>
<text x="0" y="0" transform="translate(275.84 541.85) rotate(-90) scale(0.9782 1)" text-anchor="end" font-size="10.5" font-family="Liberation Sans, sans-serif" fill="#151515" stroke="#151515" stroke-width="0.4">-300</text>
<text x="0" y="0" transform="translate(290.16 541.84) rotate(-90) scale(0.9800 1)" text-anchor="end" font-size="10.5" font-family="Liberation Sans, sans-serif" fill="#151515" stroke="#151515" stroke-width="0.4">-200</text>
<text x="0" y="0" transform="translate(305.70 541.85) rotate(-90) scale(0.9785 1)" text-anchor="end" font-size="10.5" font-family="Liberation Sans, sans-serif" fill="#151515" stroke="#151515" stroke-width="0.4">-100</text>
<text x="0" y="0" transform="translate(351.71 542.22) rotate(-90) scale(0.9432 1)" text-anchor="end" font-size="10.5" font-family="Liberation Sans, sans-serif" fill="#151515" stroke="#151515" stroke-width="0.4">+100</text>
<text x="0" y="0" transform="translate(366.71 542.15) rotate(-90) scale(0.9471 1)" text-anchor="end" font-size="10.5" font-family="Liberation Sans, sans-serif" fill="#151515" stroke="#151515" stroke-width="0.4">+200</text>
<text x="0" y="0" transform="translate(381.45 542.23) rotate(-90) scale(0.9643 1)" text-anchor="end" font-size="10.5" font-family="Liberation Sans, sans-serif" fill="#151515" stroke="#151515" stroke-width="0.4">+300</text>
<text x="0" y="0" transform="translate(471.26 260.93) rotate(90) scale(0.9996 1)" text-anchor="start" font-size="10.8" font-family="Liberation Sans, sans-serif" fill="#222" stroke="#222" stroke-width="0.2">Enrichment level</text>
<text x="0" y="0" transform="translate(65.43 653.15) rotate(-90) scale(1.0001 1)" text-anchor="end" font-size="10.3" font-family="Liberation Sans, sans-serif" fill="#151515" stroke="#151515" stroke-width="0.4">TRA2A</text>
<text x="0" y="0" transform="translate(87.32 655.19) rotate(-90) scale(0.9308 1)" text-anchor="end" font-size="10.3" font-family="Liberation Sans, sans-serif" fill="#151515" stroke="#151515" stroke-width="0.4">SRSF1</text>
<text x="0" y="0" transform="translate(110.27 654.49) rotate(-90) scale(0.9691 1)" text-anchor="end" font-size="10.3" font-family="Liberation Sans, sans-serif" fill="#151515" stroke="#151515" stroke-width="0.4">SRSF7</text>
<text x="0" y="0" transform="translate(131.28 654.44) rotate(-90) scale(0.9732 1)" text-anchor="end" font-size="10.3" font-family="Liberation Sans, sans-serif" fill="#151515" stroke="#151515" stroke-width="0.4">SRSF2</text>
<text x="0" y="0" transform="translate(153.38 655.36) rotate(-90) scale(0.9326 1)" text-anchor="end" font-size="10.3" font-family="Liberation Sans, sans-serif" fill="#151515" stroke="#151515" stroke-width="0.4">PCBP2</text>
<text x="0" y="0" transform="translate(176.34 655.40) rotate(-90) scale(0.9102 1)" text-anchor="end" font-size="10.3" font-family="Liberation Sans, sans-serif" fill="#151515" stroke="#151515" stroke-width="0.4">FUS</text>
<text x="0" y="0" transform="translate(198.17 654.19) rotate(-90) scale(0.9857 1)" text-anchor="end" font-size="10.3" font-family="Liberation Sans, sans-serif" fill="#151515" stroke="#151515" stroke-width="0.4">RBFOX2</text>
<text x="0" y="0" transform="translate(221.02 654.70) rotate(-90) scale(0.9913 1)" text-anchor="end" font-size="10.3" font-family="Liberation Sans, sans-serif" fill="#151515" stroke="#151515" stroke-width="0.4">TAF15</text>
<text x="0" y="0" transform="translate(242.94 654.52) rotate(-90) scale(0.9884 1)" text-anchor="end" font-size="10.3" font-family="Liberation Sans, sans-serif" fill="#151515" stroke="#151515" stroke-width="0.4">SRSF9</text>
<text x="0" y="0" transform="translate(265.08 655.35) rotate(-90) scale(0.9876 1)" text-anchor="end" font-size="10.3" font-family="Liberation Sans, sans-serif" fill="#151515" stroke="#151515" stroke-width="0.4">DAZAP1</text>
<text x="0" y="0" transform="translate(287.54 655.57) rotate(-90) scale(0.9053 1)" text-anchor="end" font-size="10.3" font-family="Liberation Sans, sans-serif" fill="#151515" stroke="#151515" stroke-width="0.4">SFPQ</text>
<text x="0" y="0" transform="translate(310.29 656.38) rotate(-90) scale(0.9616 1)" text-anchor="end" font-size="10.3" font-family="Liberation Sans, sans-serif" fill="#151515" stroke="#151515" stroke-width="0.4">HNRNPA1</text>
<text x="0" y="0" transform="translate(331.74 656.13) rotate(-90) scale(0.9095 1)" text-anchor="end" font-size="10.3" font-family="Liberation Sans, sans-serif" fill="#151515" stroke="#151515" stroke-width="0.4">PCBP1</text>
<text x="0" y="0" transform="translate(353.73 656.21) rotate(-90) scale(0.9127 1)" text-anchor="end" font-size="10.3" font-family="Liberation Sans, sans-serif" fill="#151515" stroke="#151515" stroke-width="0.4">HNRNPL</text>
<text x="0" y="0" transform="translate(376.33 656.31) rotate(-90) scale(0.9430 1)" text-anchor="end" font-size="10.3" font-family="Liberation Sans, sans-serif" fill="#151515" stroke="#151515" stroke-width="0.4">U2AF2</text>
<text x="0" y="0" transform="translate(398.92 654.34) rotate(-90) scale(0.9833 1)" text-anchor="end" font-size="10.3" font-family="Liberation Sans, sans-serif" fill="#151515" stroke="#151515" stroke-width="0.4">TARDBP</text>
<text x="0" y="0" transform="translate(420.54 656.93) rotate(-90) scale(0.8851 1)" text-anchor="end" font-size="10.3" font-family="Liberation Sans, sans-serif" fill="#151515" stroke="#151515" stroke-width="0.4">PTBP1</text>
<text x="0" y="0" transform="translate(443.39 655.10) rotate(-90) scale(0.9517 1)" text-anchor="end" font-size="10.3" font-family="Liberation Sans, sans-serif" fill="#151515" stroke="#151515" stroke-width="0.4">KHSRP</text>
<text x="0" y="0" transform="translate(465.07 656.02) rotate(-90) scale(0.9168 1)" text-anchor="end" font-size="10.3" font-family="Liberation Sans, sans-serif" fill="#151515" stroke="#151515" stroke-width="0.4">HNRNPC</text>
<text x="0" y="0" transform="translate(486.78 656.79) rotate(-90) scale(0.8432 1)" text-anchor="end" font-size="10.3" font-family="Liberation Sans, sans-serif" fill="#151515" stroke="#151515" stroke-width="0.4">TIA1</text>
<text x="0" y="0" transform="translate(509.57 655.94) rotate(-90) scale(0.9222 1)" text-anchor="end" font-size="10.3" font-family="Liberation Sans, sans-serif" fill="#151515" stroke="#151515" stroke-width="0.4">MBNL1</text>
<text x="0" y="0" transform="translate(234.21 77.50) scale(0.8921 1)" text-anchor="middle" font-size="10.5" font-family="Liberation Sans, sans-serif" fill="#151515" stroke="#151515" stroke-width="0.4">HNRNPM</text>
<text x="0" y="0" transform="translate(234.66 94.53) scale(0.9041 1)" text-anchor="middle" font-size="10.5" font-family="Liberation Sans, sans-serif" fill="#151515" stroke="#151515" stroke-width="0.4">HNRNPC</text>
<text x="0" y="0" transform="translate(234.46 110.73) scale(0.8954 1)" text-anchor="middle" font-size="10.5" font-family="Liberation Sans, sans-serif" fill="#151515" stroke="#151515" stroke-width="0.4">HNRNPL</text>
<text x="0" y="0" transform="translate(234.41 126.23) scale(0.8862 1)" text-anchor="middle" font-size="10.5" font-family="Liberation Sans, sans-serif" fill="#151515" stroke="#151515" stroke-width="0.4">PCBP1</text>
<text x="0" y="0" transform="translate(235.04 143.17) scale(0.9862 1)" text-anchor="middle" font-size="10.5" font-family="Liberation Sans, sans-serif" fill="#151515" stroke="#151515" stroke-width="0.4">TRA2A</text>
<text x="0" y="0" transform="translate(235.43 159.56) scale(0.9502 1)" text-anchor="middle" font-size="10.5" font-family="Liberation Sans, sans-serif" fill="#151515" stroke="#151515" stroke-width="0.4">SRSF9</text>
<text x="0" y="0" transform="translate(235.18 175.74) scale(0.9230 1)" text-anchor="middle" font-size="10.5" font-family="Liberation Sans, sans-serif" fill="#151515" stroke="#151515" stroke-width="0.4">PCBP2</text>
<text x="0" y="0" transform="translate(234.83 191.80) scale(0.9477 1)" text-anchor="middle" font-size="10.5" font-family="Liberation Sans, sans-serif" fill="#151515" stroke="#151515" stroke-width="0.4">MBNL2</text>
<text x="0" y="0" transform="translate(236.04 207.89) scale(0.9614 1)" text-anchor="middle" font-size="10.5" font-family="Liberation Sans, sans-serif" fill="#151515" stroke="#151515" stroke-width="0.4">QKI</text>
<text x="0" y="0" transform="translate(235.11 224.12) scale(0.9571 1)" text-anchor="middle" font-size="10.5" font-family="Liberation Sans, sans-serif" fill="#151515" stroke="#151515" stroke-width="0.4">HNRNPA2B1</text>
<text x="0" y="0" transform="translate(234.86 240.21) scale(0.9453 1)" text-anchor="middle" font-size="10.5" font-family="Liberation Sans, sans-serif" fill="#151515" stroke="#151515" stroke-width="0.4">HNRNPA1</text>
<text x="0" y="0" transform="translate(235.06 256.63) scale(0.8777 1)" text-anchor="middle" font-size="10.5" font-family="Liberation Sans, sans-serif" fill="#151515" stroke="#151515" stroke-width="0.4">PTBP1</text>
<text x="0" y="0" transform="translate(234.52 272.87) scale(0.9399 1)" text-anchor="middle" font-size="10.5" font-family="Liberation Sans, sans-serif" fill="#151515" stroke="#151515" stroke-width="0.4">SFPQ</text>
<text x="0" y="0" transform="translate(234.69 289.70) scale(1.0376 1)" text-anchor="middle" font-size="10.5" font-family="Liberation Sans, sans-serif" fill="#151515" stroke="#151515" stroke-width="0.4">SF3A3</text>
<text x="0" y="0" transform="translate(235.44 305.18) scale(0.9511 1)" text-anchor="middle" font-size="10.5" font-family="Liberation Sans, sans-serif" fill="#151515" stroke="#151515" stroke-width="0.4">SRSF3</text>
<text x="0" y="0" transform="translate(234.75 321.47) scale(0.9105 1)" text-anchor="middle" font-size="10.5" font-family="Liberation Sans, sans-serif" fill="#151515" stroke="#151515" stroke-width="0.4">HNRNPK</text>
<text x="0" y="0" transform="translate(234.13 338.45) scale(0.9631 1)" text-anchor="middle" font-size="10.5" font-family="Liberation Sans, sans-serif" fill="#151515" stroke="#151515" stroke-width="0.4">U2AF1</text>
<text x="0" y="0" transform="translate(234.24 354.58) scale(0.8948 1)" text-anchor="middle" font-size="10.5" font-family="Liberation Sans, sans-serif" fill="#151515" stroke="#151515" stroke-width="0.4">HNRNPU</text>
<text x="0" y="0" transform="translate(234.40 370.91) scale(0.9441 1)" text-anchor="middle" font-size="10.5" font-family="Liberation Sans, sans-serif" fill="#151515" stroke="#151515" stroke-width="0.4">KHSRP</text>
<text x="0" y="0" transform="translate(233.41 387.11) scale(0.9448 1)" text-anchor="middle" font-size="10.5" font-family="Liberation Sans, sans-serif" fill="#151515" stroke="#151515" stroke-width="0.4">SF3B1</text>
<text x="0" y="0" transform="translate(234.50 403.16) scale(0.9965 1)" text-anchor="middle" font-size="10.5" font-family="Liberation Sans, sans-serif" fill="#151515" stroke="#151515" stroke-width="0.4">U2AF2</text>
<text x="0" y="0" transform="translate(234.47 419.40) scale(0.9559 1)" text-anchor="middle" font-size="10.5" font-family="Liberation Sans, sans-serif" fill="#151515" stroke="#151515" stroke-width="0.4">RBFOX2</text>
<text x="0" y="0" transform="translate(234.88 435.69) scale(0.9185 1)" text-anchor="middle" font-size="10.5" font-family="Liberation Sans, sans-serif" fill="#151515" stroke="#151515" stroke-width="0.4">FUS</text>
<text x="0" y="0" transform="translate(235.09 451.55) scale(0.9577 1)" text-anchor="middle" font-size="10.5" font-family="Liberation Sans, sans-serif" fill="#151515" stroke="#151515" stroke-width="0.4">RBM22</text>
<text x="0" y="0" transform="translate(234.76 467.83) scale(0.9511 1)" text-anchor="middle" font-size="10.5" font-family="Liberation Sans, sans-serif" fill="#151515" stroke="#151515" stroke-width="0.4">RBM15</text>
<text x="0" y="0" transform="translate(235.35 484.18) scale(0.9421 1)" text-anchor="middle" font-size="10.5" font-family="Liberation Sans, sans-serif" fill="#151515" stroke="#151515" stroke-width="0.4">SRSF7</text>
<text x="0" y="0" transform="translate(234.28 501.25) scale(0.9912 1)" text-anchor="middle" font-size="10.5" font-family="Liberation Sans, sans-serif" fill="#151515" stroke="#151515" stroke-width="0.4">SF3B4</text>
<text x="0" y="0" transform="translate(235.36 516.61) scale(0.8965 1)" text-anchor="middle" font-size="10.5" font-family="Liberation Sans, sans-serif" fill="#151515" stroke="#151515" stroke-width="0.4">PRPF8</text>
<text x="0" y="0" transform="translate(234.98 533.69) scale(0.9205 1)" text-anchor="middle" font-size="10.5" font-family="Liberation Sans, sans-serif" fill="#151515" stroke="#151515" stroke-width="0.4">SRSF1</text>
</svg>
</body></html>
